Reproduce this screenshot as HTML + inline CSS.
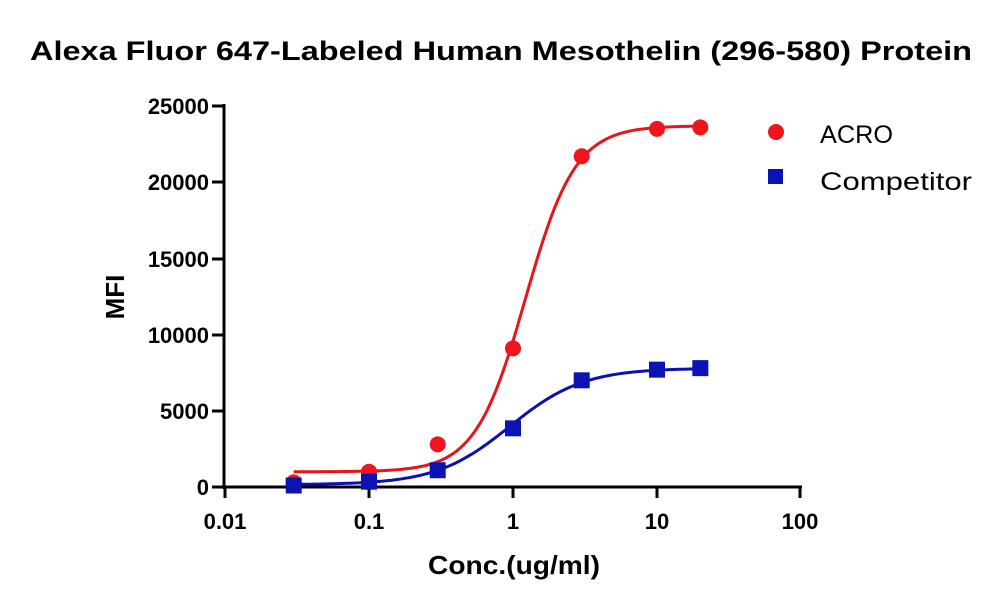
<!DOCTYPE html>
<html><head><meta charset="utf-8"><style>
html,body{margin:0;padding:0;background:#fff;}
svg{display:block;font-family:"Liberation Sans",sans-serif;}
</style></head><body>
<svg id="s" width="1000" height="606" viewBox="0 0 1000 606">
<text x="501" y="60" text-anchor="middle" font-size="27" font-weight="bold" textLength="942" lengthAdjust="spacingAndGlyphs">Alexa Fluor 647-Labeled Human Mesothelin (296-580) Protein</text>
<g stroke="#000" stroke-width="3" fill="none">
<line x1="224" y1="104" x2="224" y2="489"/>
<line x1="222" y1="487" x2="802" y2="487"/>
<line x1="212" y1="106" x2="224" y2="106"/>
<line x1="212" y1="182" x2="224" y2="182"/>
<line x1="212" y1="259" x2="224" y2="259"/>
<line x1="212" y1="335" x2="224" y2="335"/>
<line x1="212" y1="411" x2="224" y2="411"/>
<line x1="212" y1="487" x2="224" y2="487"/>
<line x1="225" y1="487" x2="225" y2="498"/>
<line x1="369" y1="487" x2="369" y2="498"/>
<line x1="513" y1="487" x2="513" y2="498"/>
<line x1="657" y1="487" x2="657" y2="498"/>
<line x1="800" y1="487" x2="800" y2="498"/>
</g>
<g font-size="22" font-weight="bold" text-anchor="end">
<text x="209" y="114">25000</text>
<text x="209" y="190">20000</text>
<text x="209" y="267">15000</text>
<text x="209" y="343">10000</text>
<text x="209" y="419">5000</text>
<text x="209" y="495">0</text>
</g>
<g font-size="22" font-weight="bold" text-anchor="middle">
<text x="225" y="529">0.01</text>
<text x="369" y="529">0.1</text>
<text x="513" y="529">1</text>
<text x="657" y="529">10</text>
<text x="800" y="529">100</text>
</g>
<text x="514" y="574" font-size="26" font-weight="bold" text-anchor="middle" textLength="172" lengthAdjust="spacingAndGlyphs">Conc.(ug/ml)</text>
<text transform="translate(124,297) rotate(-90)" font-size="26" font-weight="bold" text-anchor="middle">MFI</text>
<path id="rc" fill="none" stroke="#e8141c" stroke-width="3"/>
<path id="bc" fill="none" stroke="#0c10b0" stroke-width="3"/>
<g id="pts"></g>
<circle cx="776" cy="132" r="8" fill="#f0141c"/>
<text x="820" y="143" font-size="25" textLength="73" lengthAdjust="spacingAndGlyphs">ACRO</text>
<rect x="768" y="169" width="15" height="15" fill="#0a14b4"/>
<text x="820" y="190" font-size="25" textLength="152" lengthAdjust="spacingAndGlyphs">Competitor</text>
</svg>
<script>
function X(c){return 225+144*(Math.log10(c)+2);}
function Y(v){return 487-v*76.2/5000;}
function curve(b,t,e,h){var d="";for(var i=0;i<=120;i++){var lc=Math.log10(0.03)+i*(Math.log10(20)-Math.log10(0.03))/120;var c=Math.pow(10,lc);var v=b+(t-b)/(1+Math.pow(e/c,h));d+=(i?"L":"M")+X(c).toFixed(1)+","+Y(v).toFixed(1);}return d;}
document.getElementById("rc").setAttribute("d",curve(1000,23700,1.22,2.5));
document.getElementById("bc").setAttribute("d",curve(150,7800,0.95,1.7));
var cs=[0.03,0.1,0.3,1,3,10,20];
var r=[300,1000,2800,9100,21700,23500,23600];
var b=[100,350,1100,3850,7000,7700,7800];
var g="";
for(var i=0;i<7;i++){g+='<circle cx="'+X(cs[i])+'" cy="'+Y(r[i])+'" r="8" fill="#f0141c"/>';}
for(var i=0;i<7;i++){g+='<rect x="'+(X(cs[i])-8)+'" y="'+(Y(b[i])-8)+'" width="16" height="16" fill="#0a14b4"/>';}
document.getElementById("pts").innerHTML=g;
</script>
</body></html>
